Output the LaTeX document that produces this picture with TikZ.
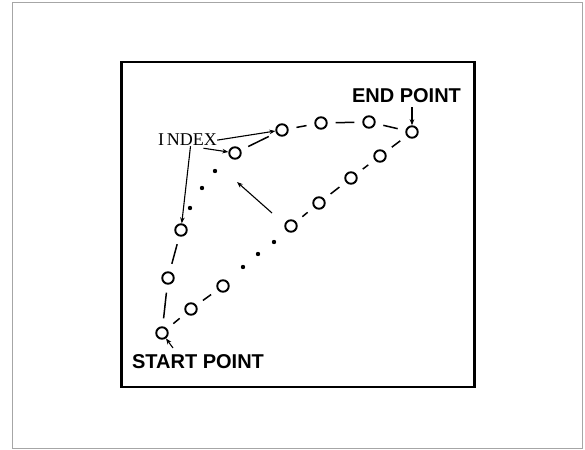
\documentclass[tikz,border=0pt]{standalone}
\usepackage{fontspec}
\setmainfont{Liberation Sans}
\newfontfamily\idxfont{Liberation Serif}
\usetikzlibrary{arrows.meta}
\tikzset{
  pt/.style={circle,draw,line width=1.9pt,minimum size=11.5pt,inner sep=0pt},
  dotpt/.style={circle,fill,minimum size=4.4pt,inner sep=0pt},
  link/.style={line width=1.5pt,shorten <=8pt,shorten >=8pt},
  lbl/.style={font=\fontsize{20}{20}\selectfont\bfseries,inner sep=0pt,anchor=base},
  pointer/.style={line width=1.1pt,-{Stealth[length=6pt,width=4.5pt]}},
}
\begin{document}
\begin{tikzpicture}[x=1pt,y=-1pt]
\useasboundingbox (0,0) rectangle (585,449);
% outer frame
\draw[gray!70,line width=0.8pt] (12.5,2.5) rectangle (582,448);
% inner box
\draw[line width=2.6pt] (121.5,62) rectangle (474.5,387);
% points
\node[pt] (S) at (162,333) {};
\node[pt] (L1) at (168,278) {};
\node[pt] (L2) at (181,230) {};
\node[dotpt] (d1) at (190,208) {};
\node[dotpt] (d2) at (202,188) {};
\node[dotpt] (d3) at (215,171) {};
\node[pt] (C1) at (235,153) {};
\node[pt] (T1) at (282,130) {};
\node[pt] (T2) at (321,123) {};
\node[pt] (T3) at (369,122) {};
\node[pt] (E) at (412,132) {};
\node[pt] (R1) at (380,156) {};
\node[pt] (R2) at (351,178) {};
\node[pt] (R3) at (319,203) {};
\node[pt] (R4) at (291,226) {};
\node[dotpt] (e1) at (274,242) {};
\node[dotpt] (e2) at (258,254) {};
\node[dotpt] (e3) at (243,267) {};
\node[pt] (B2) at (223,286) {};
\node[pt] (B1) at (191,309) {};
% links
\draw[link] (S) -- (L1);
\draw[link] (L1) -- (L2);
\draw[link] (C1) -- (T1);
\draw[link] (T1) -- (T2);
\draw[link] (T2) -- (T3);
\draw[link] (T3) -- (E);
\draw[link] (E) -- (R1);
\draw[link] (R1) -- (R2);
\draw[link] (R2) -- (R3);
\draw[link] (R3) -- (R4);
\draw[link] (B2) -- (B1);
\draw[link] (B1) -- (S);
% labels
\node[lbl] (endl) at (406.5,103) {END POINT};
\node[lbl] (startl) at (198,368) {START POINT};
\node[font=\fontsize{18}{18}\selectfont\idxfont,inner sep=0pt,anchor=base] (idx) at (187.5,146) {I\,NDEX};
% pointers
\draw[pointer] (endl.south -| E) ++(0,4) coordinate (ea) (ea) -- (E);
\draw[pointer] (173,348) coordinate (sa) -- (S);
\draw[pointer] (idx.east) -- (T1);
\draw[pointer] ([xshift=16pt,yshift=-2pt]idx.south) -- (C1);
\draw[pointer] ([xshift=3pt]idx.south) -- (L2);
\coordinate (ba) at (272,213);
\coordinate (bb) at (237,182);
\draw[pointer] (ba) -- (bb);
\end{tikzpicture}
\end{document}
